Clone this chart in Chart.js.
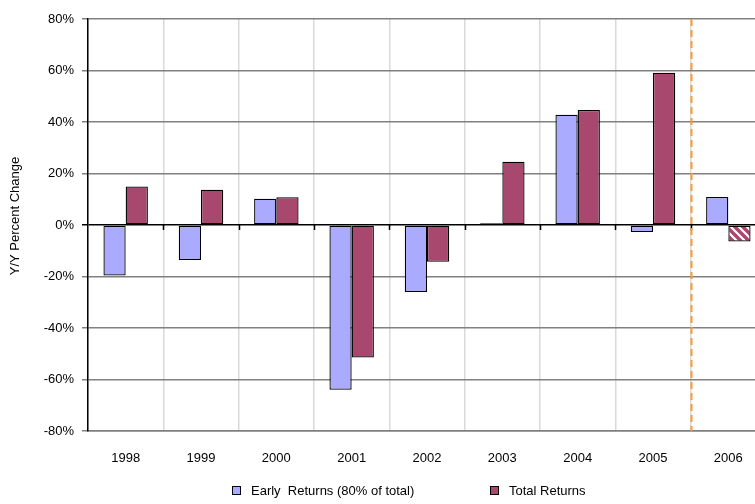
<!DOCTYPE html>
<html>
<head>
<meta charset="utf-8">
<script src="https://cdn.jsdelivr.net/npm/chart.js@4/dist/chart.umd.min.js"></script>
<style>
  html, body { margin: 0; padding: 0; background: #fff; }
  #wrap { position: relative; width: 755px; height: 504px; overflow: hidden; }
  #returns { position: absolute; left: 0; top: 0; }
  .legend { position: absolute; top: 483px; font: 13px "Liberation Sans", Arial, sans-serif; color: #000; white-space: pre; }
  .legend i { display: inline-block; width: 7px; height: 7px; border: 1px solid #000; margin-right: 10px; vertical-align: 0; }
</style>
</head>
<body>
<div id="wrap">
  <canvas id="returns" width="766" height="504"></canvas>
  <div class="legend" style="left:232px"><i style="background:#aaaaff"></i>Early  Returns (80% of total)</div>
  <div class="legend" style="left:490px"><i style="background:#a8486f"></i>Total Returns</div>
</div>
<script>
const years = ["1998", "1999", "2000", "2001", "2002", "2003", "2004", "2005", "2006"];
const earlyReturns = [-19.6, -13.6, 10.2, -64.0, -26.0, 0.7, 42.8, -2.7, 10.9];
const totalReturns = [15.0, 13.7, 10.8, -51.5, -14.3, 24.6, 44.7, 59.1, -6.4];
const yTicks = [-80, -60, -40, -20, 0, 20, 40, 60, 80];
const forecastFrom = 8; // 2006 is an estimate
const yTitle = "Y/Y Percent Change";

const BLUE = "#aaaaff";
const PLUM = "#a8486f";

// striped fill for the estimated year
function stripes() {
  const c = document.createElement("canvas");
  c.width = 8; c.height = 8;
  const g = c.getContext("2d");
  g.fillStyle = PLUM;
  g.fillRect(0, 0, 8, 8);
  g.strokeStyle = "#fff";
  g.lineWidth = 2.2;
  g.beginPath();
  g.moveTo(-2, -2); g.lineTo(10, 10);
  g.moveTo(-2, 6); g.lineTo(2, 10);
  g.moveTo(6, -2); g.lineTo(10, 2);
  g.stroke();
  return g.createPattern(c, "repeat");
}
const hatch = stripes();

// small tick marks below the zero line, dashed divider before the estimate,
// and the y title (sits a little above the plot's middle)
const extras = {
  id: "extras",
  beforeDatasetsDraw(chart) {
    const { ctx, scales: { x, y } } = chart;
    const y0 = y.getPixelForValue(0);
    const step = x.getPixelForTick(1) - x.getPixelForTick(0);
    ctx.save();
    ctx.strokeStyle = "#000";
    ctx.lineWidth = 1.5;
    ctx.beginPath();
    for (let i = 1; i < years.length; i++) {
      const px = Math.round(x.getPixelForTick(i) - step / 2) + 0.5;
      ctx.moveTo(px, y0);
      ctx.lineTo(px, y0 + 5);
    }
    ctx.stroke();
    ctx.restore();
  },
  afterDatasetsDraw(chart) {
    const { ctx, chartArea, scales: { x } } = chart;
    const step = x.getPixelForTick(1) - x.getPixelForTick(0);
    const px = Math.round(x.getPixelForTick(forecastFrom) - step / 2) + 0.5;
    ctx.save();
    ctx.strokeStyle = "#ff9933";
    ctx.lineWidth = 2;
    ctx.setLineDash([7, 4]);
    ctx.beginPath();
    ctx.moveTo(px, chartArea.top);
    ctx.lineTo(px, chartArea.bottom);
    ctx.stroke();
    ctx.restore();

    ctx.save();
    ctx.translate(15, chartArea.top + (chartArea.bottom - chartArea.top) / 2 - 9);
    ctx.rotate(-Math.PI / 2);
    ctx.font = '13px "Liberation Sans", Arial, sans-serif';
    ctx.fillStyle = "#000";
    ctx.textAlign = "center";
    ctx.textBaseline = "middle";
    ctx.fillText(yTitle, 0, 0);
    ctx.restore();
  }
};

Chart.defaults.font.family = '"Liberation Sans", Arial, sans-serif';
Chart.defaults.font.size = 13;
Chart.defaults.color = "#000";

new Chart(document.getElementById("returns"), {
  type: "bar",
  data: {
    labels: years,
    datasets: [
      {
        label: "Early Returns (80% of total)",
        data: earlyReturns,
        backgroundColor: BLUE,
        borderColor: "#000",
        borderWidth: 1.3,
        borderSkipped: false
      },
      {
        label: "Total Returns",
        data: totalReturns,
        backgroundColor: totalReturns.map((_, i) => i >= forecastFrom ? hatch : PLUM),
        borderColor: "#000",
        borderWidth: 1.3,
        borderSkipped: false
      }
    ]
  },
  options: {
    responsive: false,
    animation: false,
    devicePixelRatio: 1,
    layout: { padding: { top: 19, left: 0, right: 0, bottom: 0 } },
    categoryPercentage: 0.59,
    barPercentage: 1.0,
    plugins: { legend: { display: false }, tooltip: { enabled: false } },
    scales: {
      x: {
        afterFit: (s) => { s.height = 73; },
        grid: { offset: true, color: "#d9d9d9", lineWidth: 1.5, drawTicks: false },
        border: { color: "#808080", width: 1.5 },
        ticks: { padding: 20, maxRotation: 0 }
      },
      y: {
        min: -80,
        max: 80,
        afterFit: (s) => { s.width = 88; },
        afterBuildTicks: (s) => { s.ticks = yTicks.map(v => ({ value: v })); },
        ticks: { callback: (v) => v + "%", padding: 8 },
        grid: {
          color: (c) => c.tick && c.tick.value === 0 ? "#000" : "#808080",
          lineWidth: 1.5,
          tickLength: 6
        },
        border: { color: "#000", width: 1.5 }
      }
    }
  },
  plugins: [extras]
});
</script>
</body>
</html>
